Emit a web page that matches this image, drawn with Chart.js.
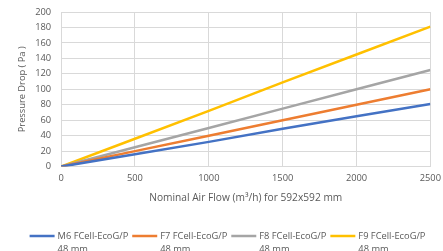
<!DOCTYPE html>
<html>
<head>
<meta charset="utf-8">
<script src="https://cdn.jsdelivr.net/npm/chart.js@4"></script>
<style>
  html, body { margin: 0; padding: 0; background: #fff; }
  #wrap { width: 443px; height: 251px; }
</style>
</head>
<body>
<div id="wrap"><canvas id="myChart"></canvas></div>
<script>
// Datos
const airFlow = [0, 500, 1000, 1500, 2000, 2500];
const m6 = [0, 16, 32, 49, 65, 81];
const f7 = [0, 20, 40, 60, 80, 100];
const f8 = [0, 25, 50, 75, 100, 125];
const f9 = [0, 36, 72, 109, 145, 181];

const seriesNames = ["M6 FCell-EcoG/P", "F7 FCell-EcoG/P", "F8 FCell-EcoG/P", "F9 FCell-EcoG/P"];
const seriesSub = "48 mm";
const colores = ["#4472c4", "#ed7d31", "#a5a5a5", "#ffc000"];

const ctx = document.getElementById("myChart");

function puntos(valores) {
  return airFlow.map((x, i) => ({ x: x, y: valores[i] }));
}

const todas = [m6, f7, f8, f9];
const datasets = todas.map((serie, i) => ({
  label: seriesNames[i],
  data: puntos(serie),
  borderColor: colores[i],
  backgroundColor: colores[i],
  borderWidth: 2.5,
  pointRadius: 0,
  tension: 0,
}));

const gris = "#595959";
const grid = "#d9d9d9";
const fuente = "Open Sans";

// Leyenda dibujada a mano: línea + nombre + "48 mm" debajo
const leyenda = {
  id: "leyenda",
  afterDraw(chart) {
    const c = chart.ctx;
    const largo = 25; // largo de la línea
    const sep = 3; // espacio línea-texto
    const entre = 4; // espacio entre items
    const yLinea = chart.height - 15;
    c.save();
    c.font = "9.3px " + fuente;
    const anchos = chart.data.datasets.map((ds) => largo + sep + c.measureText(ds.label).width);
    const total = anchos.reduce((a, b) => a + b, 0) + entre * (anchos.length - 1);
    let x = (chart.width - total) / 2 + 6;
    chart.data.datasets.forEach((ds, i) => {
      c.strokeStyle = ds.borderColor;
      c.lineWidth = 2.5;
      c.beginPath();
      c.moveTo(x, yLinea);
      c.lineTo(x + largo, yLinea);
      c.stroke();
      c.fillStyle = gris;
      c.textAlign = "left";
      c.textBaseline = "middle";
      c.fillText(ds.label, x + largo + sep, yLinea);
      c.fillText(seriesSub, x + largo + sep, yLinea + 13);
      x += anchos[i] + entre;
    });
    c.restore();
  },
};

new Chart(ctx, {
  type: "line",
  data: { datasets: datasets },
  plugins: [leyenda],
  options: {
    responsive: true,
    maintainAspectRatio: false,
    animation: false,
    layout: { padding: { left: 17, right: 0, top: 12, bottom: 43 } },
    plugins: {
      tooltip: { enabled: false },
      legend: { display: false },
    },
    scales: {
      x: {
        type: "linear",
        min: 0,
        max: 2500,
        ticks: {
          stepSize: 500,
          color: gris,
          font: { family: fuente, size: 9.3 },
          padding: 2,
          format: { useGrouping: false },
        },
        grid: { color: grid, drawTicks: true, tickLength: 4, tickColor: "rgba(0,0,0,0)" },
        border: { color: grid },
        title: {
          display: true,
          text: "Nominal Air Flow (m³/h) for 592x592 mm",
          color: gris,
          font: { family: fuente, size: 10.2 },
          padding: { top: 6, bottom: 4 },
        },
      },
      y: {
        min: 0,
        max: 200,
        ticks: {
          stepSize: 20,
          autoSkip: false,
          color: gris,
          font: { family: fuente, size: 9.3 },
          padding: 3,
        },
        grid: { color: grid, drawTicks: true, tickLength: 7, tickColor: "rgba(0,0,0,0)" },
        border: { color: grid },
        title: {
          display: true,
          text: "Pressure Drop ( Pa )",
          color: gris,
          font: { family: fuente, size: 9.3 },
          padding: { top: 0, bottom: 4 },
        },
      },
    },
  },
});
</script>
</body>
</html>
